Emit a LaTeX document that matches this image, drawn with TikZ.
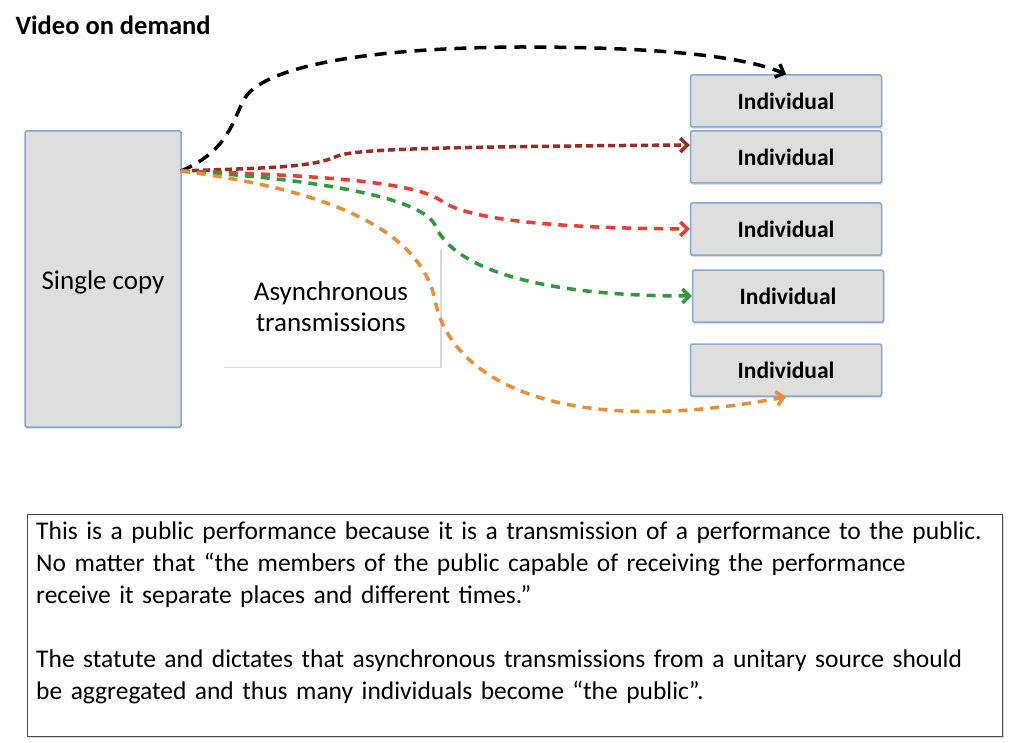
\documentclass[tikz,border=0pt]{standalone}
\usepackage{fontspec}
\setmainfont{Carlito}
\usetikzlibrary{arrows.meta,shadows}

\definecolor{boxfill}{HTML}{DEDEDE}
\definecolor{boxline}{HTML}{86A8D2}
\definecolor{linkdred}{HTML}{9E2A22}
\definecolor{linkred}{HTML}{F23A2E}
\definecolor{linkgreen}{HTML}{2E9A38}
\definecolor{linkorange}{HTML}{EE8C34}

\begin{document}
\begin{tikzpicture}[
        x=1pt, y=-1pt,
        box/.style={shape=rectangle, draw=boxline, line width=1.5pt, fill=boxfill, rounded corners=1.5pt,
            drop shadow={opacity=0.25, shadow xshift=1pt, shadow yshift=-2pt}},
        indiv/.style={box, minimum width=191pt, minimum height=52pt, font=\fontsize{23.5}{28}\selectfont\bfseries},
        link/.style={line width=3.5pt, dash pattern=on 9pt off 7pt, -{Straight Barb[length=7pt,width=14pt]}}
    ]
    \useasboundingbox (0,0) rectangle (1024,743);
    \node[anchor=west, font=\fontsize{26.5}{31}\selectfont\bfseries] (title) at (12,25) {Video on demand};
    % source and the five receivers
    \node[box, minimum width=156pt, minimum height=296pt] (copy) at (103,279) {};
    \node[font=\fontsize{27}{32}\selectfont] (copylabel) at (103,282) {Single copy};
    \node[indiv] (ind1) at (786,101) {Individual};
    \node[indiv] (ind2) at (786,157) {Individual};
    \node[indiv] (ind3) at (786,229) {Individual};
    \node[indiv] (ind4) at (788,296) {Individual};
    \node[indiv] (ind5) at (786,370) {Individual};
    \node[shape=rectangle, fill=white, minimum width=218pt, minimum height=119pt, align=center,
        drop shadow={opacity=0.3, shadow xshift=1.5pt, shadow yshift=-1.5pt},
        font=\fontsize{27}{31}\selectfont] (async) at (331,307) {Asynchronous\\ transmissions};
    \coordinate (src) at (181,171);
    % transmissions
    \draw[link, black, dash pattern=on 12pt off 8pt] (src) .. controls (230,150) and (232,120) .. (245,98)
        .. controls (262,70) and (350,48) .. (520,47) .. controls (650,47) and (740,55) .. (ind1.north);
    \draw[link, linkdred, dash pattern=on 7pt off 4pt] (src) .. controls (260,168) and (310,168) .. (335,157)
        .. controls (350,150) and (400,147) .. (ind2.west |- 0,145);
    \draw[link, linkred] (src) .. controls (300,175) and (410,180) .. (440,200)
        .. controls (460,215) and (520,228) .. (ind3.west);
    \draw[link, linkgreen] (src) .. controls (300,178) and (420,195) .. (435,225)
        .. controls (450,262) and (520,296) .. (ind4.west);
    \draw[link, linkorange] (src) .. controls (330,190) and (420,230) .. (435,300)
        .. controls (450,380) and (560,440) .. (ind5.south);
    % explanation
    \node[shape=rectangle, draw=black!70, line width=1.2pt, fill=white, anchor=north west,
        minimum width=975pt, minimum height=222pt,
        drop shadow={opacity=0.3, shadow xshift=1pt, shadow yshift=-1.5pt}] (note) at (27,514) {};
    \node[anchor=north west, text width=960pt, align=left, inner sep=0pt,
        font=\fontsize{25.5}{32}\selectfont] (notetext) at (36,522)
        {This is a public performance because it is a transmission of a performance to the public.\\
         No matter that ``the members of the public capable of receiving the performance\\
         receive it separate places and different times.''\\[32pt]
         The statute and dictates that asynchronous transmissions from a unitary source should\\
         be aggregated and thus many individuals become ``the public''.};
\end{tikzpicture}
\end{document}
